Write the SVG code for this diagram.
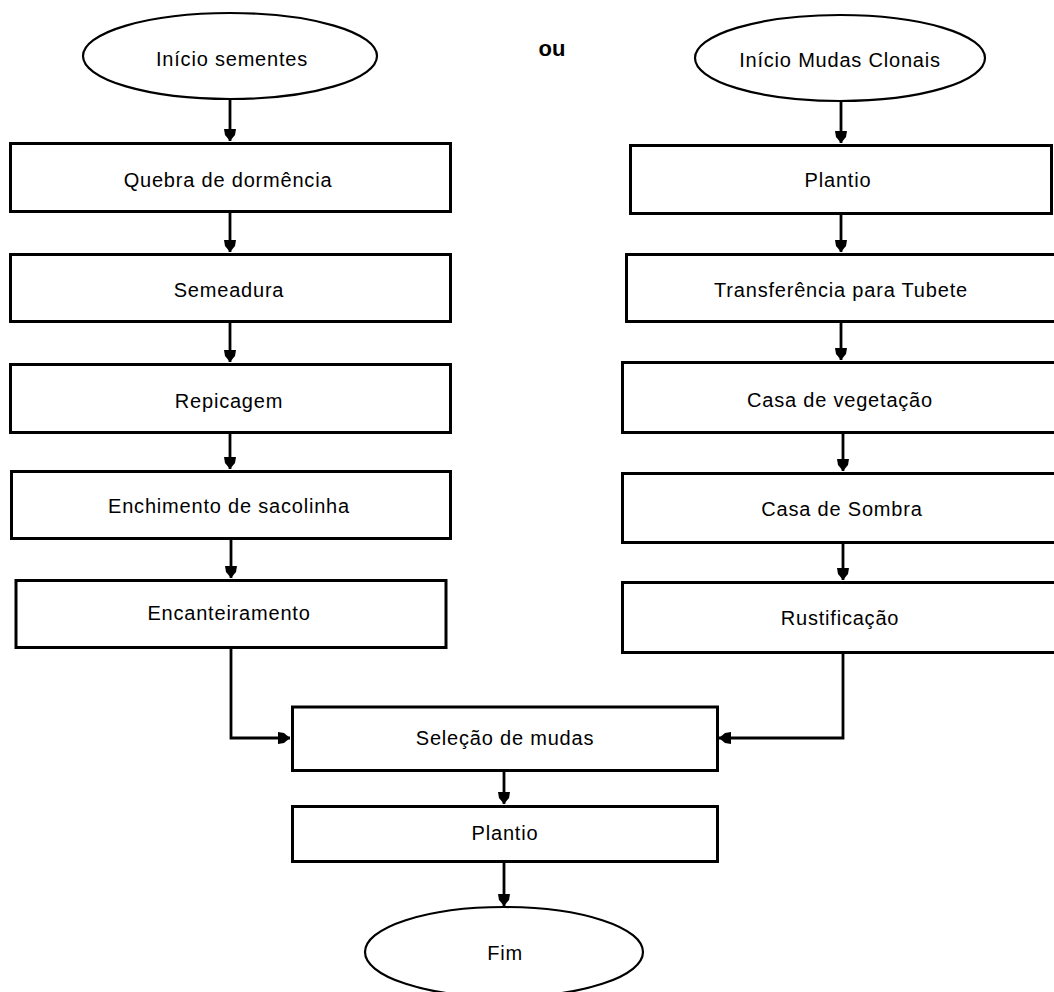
<svg xmlns="http://www.w3.org/2000/svg" width="1054" height="992" viewBox="0 0 1054 992">
<style>
.box{fill:#fff;stroke:#000;stroke-width:3}
.ell{fill:#fff;stroke:#000;stroke-width:2.2}
.t{font-family:"Liberation Sans",Arial,sans-serif;font-size:20px;letter-spacing:0.8px;text-anchor:middle;fill:#000}
.c{fill:none;stroke:#000;stroke-width:2.8}
</style>
<defs>
<marker id="ah" markerUnits="userSpaceOnUse" markerWidth="14" markerHeight="14" viewBox="-13 -7 14 14" refX="0" refY="0" orient="auto">
<path d="M-12,-6 L-12,6 L-6,5 L0,0 L-6,-5 Z" fill="#000"/>
</marker>
</defs>
<rect width="1054" height="992" fill="#fff"/>
<g id="connectors">
<path class="c" d="M230,99 V141" marker-end="url(#ah)"/>
<path class="c" d="M230,213 V252" marker-end="url(#ah)"/>
<path class="c" d="M230,323 V362" marker-end="url(#ah)"/>
<path class="c" d="M230,434 V469" marker-end="url(#ah)"/>
<path class="c" d="M231,540 V578" marker-end="url(#ah)"/>
<path class="c" d="M231,649 V738 H290" marker-end="url(#ah)"/>
<path class="c" d="M841,101 V143" marker-end="url(#ah)"/>
<path class="c" d="M841,214 V252" marker-end="url(#ah)"/>
<path class="c" d="M841,323 V360" marker-end="url(#ah)"/>
<path class="c" d="M843,434 V471" marker-end="url(#ah)"/>
<path class="c" d="M843,544 V580" marker-end="url(#ah)"/>
<path class="c" d="M843,654 V738 H719" marker-end="url(#ah)"/>
<path class="c" d="M504,772 V804" marker-end="url(#ah)"/>
<path class="c" d="M504,863 V906" marker-end="url(#ah)"/>
</g>
<g id="start-seeds">
<ellipse class="ell" cx="230" cy="56" rx="147" ry="43"/>
<text class="t" x="232" y="66">Início sementes</text>
</g>
<g id="ou">
<text x="552" y="56" style="font-family:'Liberation Sans',Arial,sans-serif;font-size:22px;font-weight:bold;text-anchor:middle">ou</text>
</g>
<g id="start-clones">
<ellipse class="ell" cx="840" cy="58" rx="145" ry="43"/>
<text class="t" x="840" y="67">Início Mudas Clonais</text>
</g>
<g id="quebra">
<rect class="box" x="10.5" y="143.5" width="440" height="68"/>
<text class="t" x="228" y="187">Quebra de dormência</text>
</g>
<g id="semeadura">
<rect class="box" x="10.5" y="254.5" width="440" height="67"/>
<text class="t" x="229" y="297">Semeadura</text>
</g>
<g id="repicagem">
<rect class="box" x="10.5" y="364.5" width="440" height="68"/>
<text class="t" x="229" y="408">Repicagem</text>
</g>
<g id="enchimento">
<rect class="box" x="11.5" y="471.5" width="439" height="67"/>
<text class="t" x="229" y="513">Enchimento de sacolinha</text>
</g>
<g id="encanteiramento">
<rect class="box" x="16" y="580.5" width="430" height="67"/>
<text class="t" x="229" y="620">Encanteiramento</text>
</g>
<g id="plantio-clone">
<rect class="box" x="630.5" y="145.5" width="421" height="68"/>
<text class="t" x="838" y="187">Plantio</text>
</g>
<g id="transferencia">
<rect class="box" x="626.5" y="254.5" width="440" height="67"/>
<text class="t" x="841" y="297">Transferência para Tubete</text>
</g>
<g id="casa-vegetacao">
<rect class="box" x="622.5" y="362.5" width="440" height="70"/>
<text class="t" x="840" y="407">Casa de vegetação</text>
</g>
<g id="casa-sombra">
<rect class="box" x="622.5" y="473.5" width="440" height="69"/>
<text class="t" x="842" y="516">Casa de Sombra</text>
</g>
<g id="rustificacao">
<rect class="box" x="622.5" y="582.5" width="440" height="70"/>
<text class="t" x="840" y="625">Rustificação</text>
</g>
<g id="selecao">
<rect class="box" x="292.5" y="707" width="425" height="63.5"/>
<text class="t" x="505" y="745">Seleção de mudas</text>
</g>
<g id="plantio">
<rect class="box" x="292.5" y="806.5" width="425" height="55"/>
<text class="t" x="505" y="840">Plantio</text>
</g>
<g id="fim">
<ellipse class="ell" cx="504" cy="952" rx="139" ry="45"/>
<text class="t" x="505" y="960">Fim</text>
</g>
</svg>
